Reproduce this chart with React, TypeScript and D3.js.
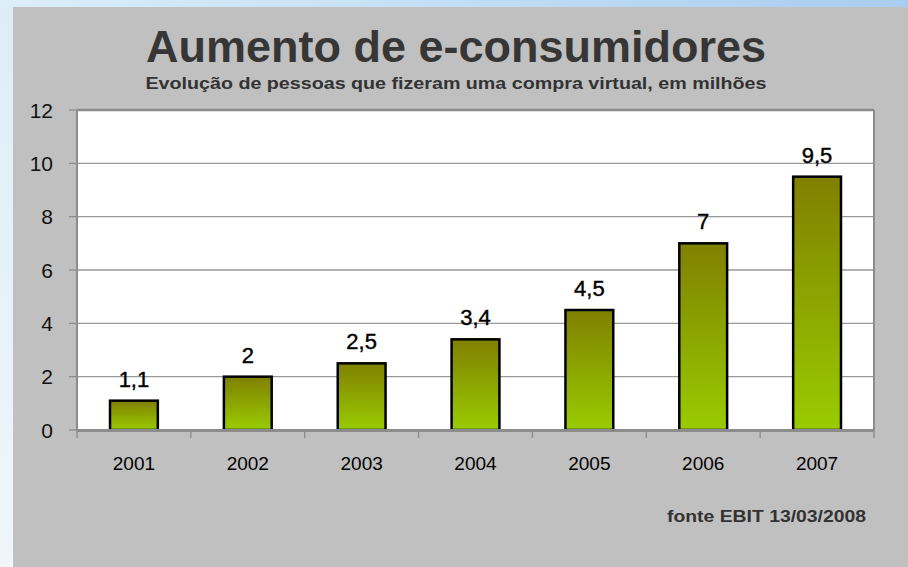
import * as d3 from "d3";
import { useEffect } from "react";

const years = ["2001", "2002", "2003", "2004", "2005", "2006", "2007"];
const buyers = [1.1, 2, 2.5, 3.4, 4.5, 7, 9.5];
const yTicks = [0, 2, 4, 6, 8, 10, 12];

const width = 908;
const height = 567;
const plotLeft = 77;
const plotRight = 874;
const plotTop = 110;
const plotBottom = 430;

const fmt = (v: number) => String(v).replace(".", ",");

export default function App() {
  useEffect(() => {
    document.body.style.margin = "0";
  }, []);

  const x = d3.scaleBand<string>().domain(years).range([plotLeft, plotRight]).padding(0);
  const y = d3.scaleLinear().domain([0, 12]).range([plotBottom, plotTop]);
  const barW = x.bandwidth() * 0.42;

  return (
    <svg width={width} height={height} style={{ display: "block" }}>
      <defs>
        <linearGradient id="topStrip" x1="0" x2="1" y1="0" y2="0">
          <stop offset="0" stopColor="#dceff9" />
          <stop offset="1" stopColor="#a9cdf0" />
        </linearGradient>
        <linearGradient id="leftStrip" x1="0" x2="0" y1="0" y2="1">
          <stop offset="0" stopColor="#dcedf7" />
          <stop offset="1" stopColor="#f0f6fa" />
        </linearGradient>
        <linearGradient id="barFill" x1="0" x2="0" y1="0" y2="1">
          <stop offset="0" stopColor="#808000" />
          <stop offset="1" stopColor="#99cc00" />
        </linearGradient>
      </defs>
      <rect width={width} height={height} fill="url(#leftStrip)" />
      <rect width={width} height={7} fill="url(#topStrip)" />
      <rect x={13} y={7} width={width - 13} height={height - 7} fill="#c0c0c0" />

      <text x={456} y={62} textAnchor="middle" fontFamily="Liberation Sans, Arial, sans-serif"
        fontWeight="bold" fontSize={44} fill="#363636" textLength={620} lengthAdjust="spacingAndGlyphs">
        Aumento de e-consumidores
      </text>
      <text x={456} y={89} textAnchor="middle" fontFamily="Liberation Sans, Arial, sans-serif"
        fontWeight="bold" fontSize={16} fill="#333" textLength={621} lengthAdjust="spacingAndGlyphs">
        Evolução de pessoas que fizeram uma compra virtual, em milhões
      </text>

      <rect x={plotLeft} y={plotTop} width={plotRight - plotLeft} height={plotBottom - plotTop} fill="#fff" />

      {yTicks.filter(t => t > 0 && t < 12).map(t => (
        <line key={t} x1={plotLeft} x2={plotRight} y1={y(t)} y2={y(t)} stroke="#999" strokeWidth={1.3} />
      ))}

      {/* plot frame */}
      <line x1={plotLeft} x2={plotRight} y1={plotTop} y2={plotTop} stroke="#8c8c8c" strokeWidth={2.5} />
      <line x1={plotRight} x2={plotRight} y1={plotTop} y2={plotBottom} stroke="#8c8c8c" strokeWidth={2} />
      <line x1={plotLeft} x2={plotLeft} y1={plotTop} y2={plotBottom} stroke="#8c8c8c" strokeWidth={2} />

      {yTicks.map(t => (
        <g key={t}>
          <line x1={plotLeft - 8} x2={plotLeft} y1={y(t)} y2={y(t)} stroke="#8c8c8c" strokeWidth={1.3} />
          <text x={53} y={y(t)} dy="0.36em" textAnchor="end" fontFamily="Liberation Sans, Arial, sans-serif"
            fontSize={21} fill="#111">
            {t}
          </text>
        </g>
      ))}

      {years.map((yr, i) => {
        const cx = x(yr)! + x.bandwidth() / 2;
        const top = y(buyers[i]);
        return (
          <g key={yr}>
            <rect x={cx - barW / 2} y={top} width={barW} height={plotBottom - top}
              fill="url(#barFill)" stroke="#000" strokeWidth={2.5} />
            <text x={cx} y={top - 14} textAnchor="middle" fontFamily="Liberation Sans, Arial, sans-serif"
              fontSize={22} fill="#000" stroke="#000" strokeWidth={0.4}>
              {fmt(buyers[i])}
            </text>
            <text x={cx} y={470} textAnchor="middle" fontFamily="Liberation Sans, Arial, sans-serif"
              fontSize={19} fill="#000">
              {yr}
            </text>
          </g>
        );
      })}

      <line x1={plotLeft} x2={plotRight} y1={plotBottom + 0.5} y2={plotBottom + 0.5} stroke="#8c8c8c" strokeWidth={3} />
      {[...years.map(yr => x(yr)!), plotRight].map((tx, i) => (
        <line key={i} x1={tx} x2={tx} y1={plotBottom} y2={plotBottom + 8} stroke="#8c8c8c" strokeWidth={1.3} />
      ))}

      <text x={866} y={522} textAnchor="end" fontFamily="Liberation Sans, Arial, sans-serif"
        fontWeight="bold" fontSize={17} fill="#333" textLength={199} lengthAdjust="spacingAndGlyphs">
        fonte EBIT 13/03/2008
      </text>
    </svg>
  );
}
